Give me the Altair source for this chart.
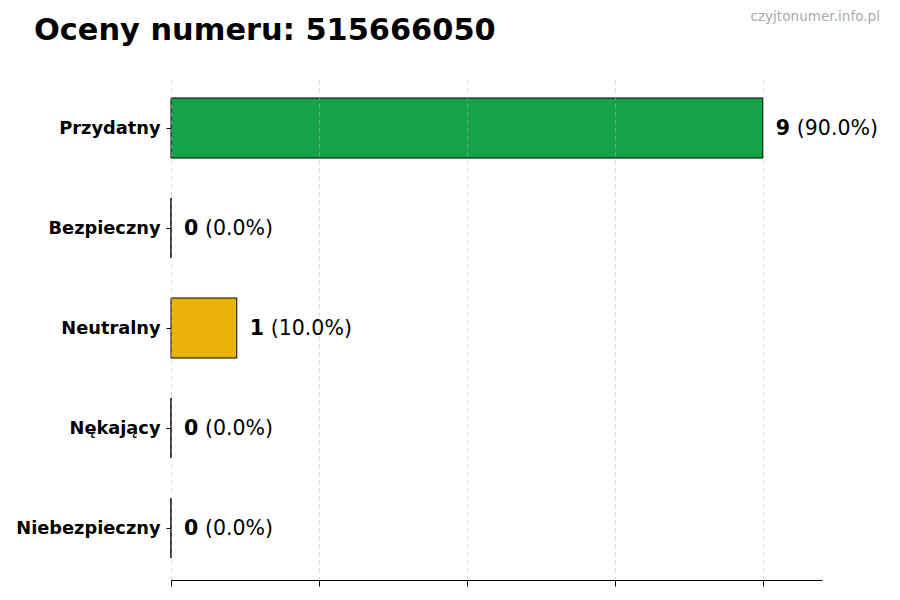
import altair as alt
import pandas as pd

categories = ["Przydatny", "Bezpieczny", "Neutralny", "Nękający", "Niebezpieczny"]
counts = [9, 0, 1, 0, 0]
colors = ["#16a34a", "#3b82f6", "#eab308", "#f97316", "#dc2626"]
x_ticks = [0, 2.25, 4.5, 6.75, 9]
title_text = "Oceny numeru: 515666050"
watermark = "czyjtonumer.info.pl"

total = sum(counts)
df = pd.DataFrame({
    "cat": categories,
    "count": counts,
    "color": colors,
    "num": [str(c) for c in counts],
    "pct": [f"({c / total * 100:.1f}%)" for c in counts],
})

FONT = "DejaVu Sans"

y_enc = alt.Y(
    "cat:N", sort=categories, title=None,
    scale=alt.Scale(paddingInner=0.4, paddingOuter=0.22),
    axis=alt.Axis(labelFont=FONT, labelFontWeight="bold", labelFontSize=17.8,
                  labelColor="black", tickColor="black", tickSize=5, tickWidth=1,
                  domain=False, labelPadding=6, labelOffset=1,
                  minExtent=163, maxExtent=163),
)
x_enc = alt.X(
    "count:Q", title=None,
    scale=alt.Scale(domain=[0, max(counts) * 1.1], nice=False, zero=True),
    axis=alt.Axis(values=x_ticks, labels=False, ticks=True, tickSize=6,
                  tickColor="black", domainColor="black", domainWidth=1,
                  grid=True, gridColor="#b0b0b0", gridOpacity=0.5,
                  gridDash=[4, 4], gridWidth=1, zindex=1),
)

bars = alt.Chart(df).mark_bar(stroke="black", strokeWidth=1, opacity=1).encode(
    x=x_enc, y=y_enc, color=alt.Color("color:N", scale=None)
)
nums = alt.Chart(df).mark_text(
    align="left", baseline="middle", dx=13, dy=1, font=FONT, fontWeight="bold",
    fontSize=20.5, color="black"
).encode(x="count:Q", y=alt.Y("cat:N", sort=categories), text="num:N")
pcts = alt.Chart(df).mark_text(
    align="left", baseline="middle", dx=34, dy=1, font=FONT, fontSize=20.5, color="black"
).encode(x="count:Q", y=alt.Y("cat:N", sort=categories), text="pct:N")
wm = alt.Chart(pd.DataFrame({"t": [watermark]})).mark_text(
    align="right", baseline="middle", font=FONT, fontSize=13.6, color="#aaaaaa"
).encode(x=alt.value(709), y=alt.value(-59), text="t:N")
ttl = alt.Chart(pd.DataFrame({"t": [title_text]})).mark_text(
    align="left", baseline="alphabetic", font=FONT, fontWeight="bold",
    fontSize=30.4, color="black"
).encode(x=alt.value(-137), y=alt.value(-36), text="t:N")

chart = alt.layer(bars, nums, pcts, wm, ttl).properties(
    width=651, height=504,
    autosize=alt.AutoSizeParams(type="none"),
    padding={"left": 163, "top": 68, "right": 70, "bottom": 20},
).configure(background="white", view=alt.ViewConfig(stroke=None))

chart.save("out.html", embed_options={"renderer": "svg", "actions": False})
